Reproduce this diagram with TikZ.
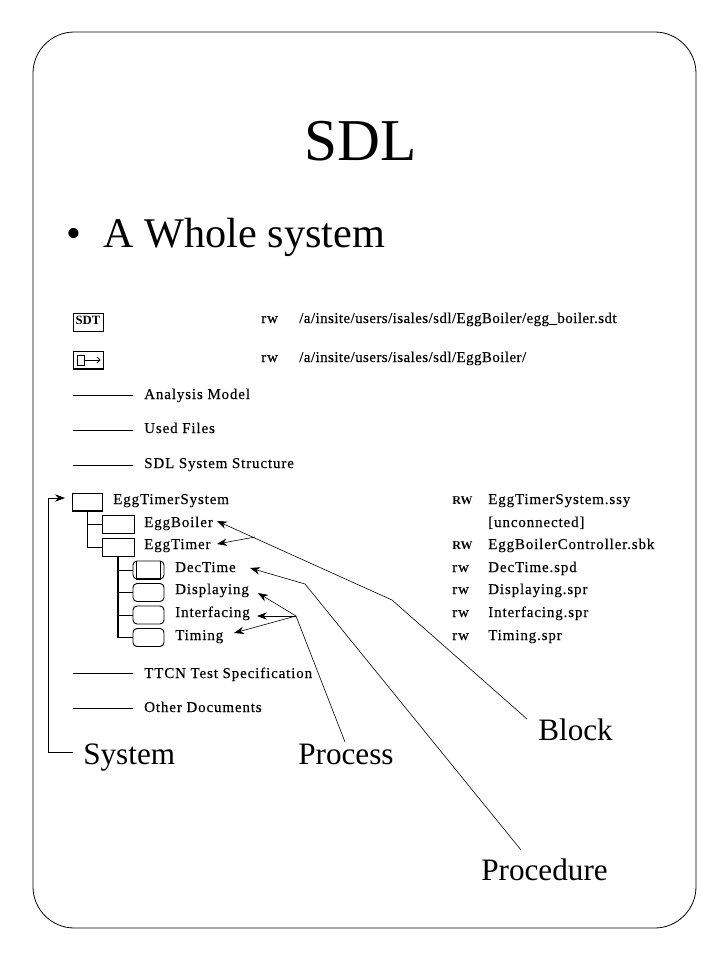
\documentclass[tikz,border=0pt]{standalone}
\usepackage{fontspec}
\usetikzlibrary{arrows.meta,positioning}
\setmainfont{Liberation Serif}
\newfontfamily\listfont[LetterSpace=6,FakeBold=0.25]{Liberation Serif}
\newfontfamily\pathfont[LetterSpace=3,FakeBold=0.25]{Liberation Serif}
\tikzset{
  x=0.75pt, y=-0.75pt,
  titletext/.style={anchor=base, inner sep=0, font=\fontsize{44.5}{50}\selectfont},
  bullettext/.style={anchor=base west, inner sep=0, font=\fontsize{31.7}{36}\selectfont},
  calltext/.style={anchor=base west, inner sep=0, font=\fontsize{23.4}{27}\selectfont},
  listtext/.style={anchor=base west, inner sep=0, font=\listfont\fontsize{11.2}{13}\selectfont},
  pathtext/.style={anchor=base west, inner sep=0, font=\pathfont\fontsize{11.2}{13}\selectfont},
  flagtext/.style={anchor=base west, inner sep=0, font=\bfseries\fontsize{9}{11}\selectfont},
  itembox/.style={draw, line width=0.7pt, inner sep=0, outer sep=0, minimum width=22.5pt, minimum height=13.5pt},
  procbox/.style={draw, line width=0.7pt, inner sep=0, outer sep=0, rounded corners=3pt, minimum width=23.25pt, minimum height=13.5pt},
  rule/.style={line width=0.6pt},
  heavy/.style={line width=1.4pt},
  call/.style={line width=0.45pt},
  tip/.style={call, -{Stealth[length=7.5pt, width=5.5pt]}},
}
\begin{document}
\begin{tikzpicture}
  \useasboundingbox (0,0) rectangle (720,960);

  % Frame
  \draw[line width=0.6pt, rounded corners=31pt] (33,32) rectangle (696,928);

  % Headings
  \node[titletext]  (title)  at (361,160) {SDL};
  \node[bullettext] (bullet) at (66,247) {\textbullet};
  \node[bullettext] (whole)  at (103,247) {A Whole system};

  % Top rows
  \node[itembox] (sdtbox) at (88,322) {\raisebox{2pt}{\bfseries\fontsize{9.5}{9}\selectfont SDT}};
  \node[itembox] (orgbox) at (88,360) {};
  \node[draw, line width=0.6pt, inner sep=0, minimum width=5.2pt, minimum height=7.5pt] (orgsquare) at (80.5,360) {};
  \coordinate (orgtip) at (100,360);
  \node[listtext] (rwa) at (261,323) {rw};
  \node[listtext] (rwb) at (261,362) {rw};
  \node[pathtext] (patha) at (299,323) {/a/insite/users/isales/sdl/EggBoiler/egg\_boiler.sdt};
  \node[pathtext] (pathb) at (299,362) {/a/insite/users/isales/sdl/EggBoiler/};

  % Closed sections
  \node[listtext] (analysis) at (144,399) {Analysis Model};
  \node[listtext] (used)     at (144,433) {Used Files};
  \node[listtext] (struct)   at (144,468) {SDL System Structure};
  \node[listtext] (ttcn)     at (144,678) {TTCN Test Specification};
  \node[listtext] (other)    at (144,712) {Other Documents};
  \coordinate (analysisend) at (73,395);
  \coordinate (usedend)     at (73,430);
  \coordinate (structend)   at (73,465);
  \coordinate (ttcnend)     at (73,673);
  \coordinate (otherend)    at (73,708);

  % Tree boxes
  \node[itembox] (sysbox)    at (87.5,502) {};
  \node[itembox, minimum width=24pt] (boilerbox) at (118,524) {};
  \node[itembox, minimum width=24pt] (timerbox)  at (118,547) {};
  \node[procbox] (decbox)    at (148.5,570) {};
  \node[procbox] (dispbox)   at (148.5,592.5) {};
  \node[procbox] (intbox)    at (148.5,615) {};
  \node[procbox] (timingbox) at (148.5,637.5) {};

  % Tree names
  \node[listtext] (sysname)    at (113,504) {EggTimerSystem};
  \node[listtext] (boilername) at (144,527) {EggBoiler};
  \node[listtext] (timername)  at (144,549) {EggTimer};
  \node[listtext] (decname)    at (175,572) {DecTime};
  \node[listtext] (dispname)   at (175,594) {Displaying};
  \node[listtext] (intname)    at (175,617) {Interfacing};
  \node[listtext] (timingname) at (175,640) {Timing};

  % Flags and files
  \node[flagtext] (flagsys)    at (452,504) {RW};
  \node[flagtext] (flagtimer)  at (452,549) {RW};
  \node[listtext] (flagdec)    at (452,572) {rw};
  \node[listtext] (flagdisp)   at (452,594) {rw};
  \node[listtext] (flagint)    at (452,617) {rw};
  \node[listtext] (flagtiming) at (452,640) {rw};
  \node[listtext] (filesys)    at (488,504) {EggTimerSystem.ssy};
  \node[listtext] (fileboiler) at (488,527) {[unconnected]};
  \node[listtext] (filetimer)  at (488,549) {EggBoilerController.sbk};
  \node[listtext] (filedec)    at (488,572) {DecTime.spd};
  \node[listtext] (filedisp)   at (488,594) {Displaying.spr};
  \node[listtext] (fileint)    at (488,617) {Interfacing.spr};
  \node[listtext] (filetiming) at (488,640) {Timing.spr};

  % Callouts
  \node[calltext] (system)    at (83,764) {System};
  \node[calltext] (process)   at (298,764) {Process};
  \node[calltext] (block)     at (538,740) {Block};
  \node[calltext] (procedure) at (481,880) {Procedure};

  \coordinate (blockend)  at (527,719);
  \coordinate (blockbend) at (392,600);
  \coordinate (blockfork) at (255,537);
  \coordinate (procend)   at (521,850);
  \coordinate (procbend)  at (305,584);
  \coordinate (procfork)  at (296,616);
  \coordinate (processend) at (345,742);
  \coordinate (sysend)    at (73,752);
  \coordinate (syscorner) at (48,498);
  \coordinate (systip)    at (65,498);
  \coordinate (boilertip) at (217,521);
  \coordinate (timertip)  at (217,544);
  \coordinate (dectip)    at (250,568);
  \coordinate (disptip)   at (258,593);
  \coordinate (inttip)    at (257,616);
  \coordinate (timingtip) at (234,633);

  % Connect the nodes
  \draw[rule] (orgsquare.east) -- (orgtip);
  \draw[rule] (orgtip) ++(-3,-3) -- (orgtip) -- ++(-3,3);
  \draw[heavy] (sysbox.south west) -- (sysbox.south east);
  \draw[heavy] (orgbox.south west) -- (orgbox.south east);
  \draw[heavy] ([xshift=2pt]decbox.south west) -- ([xshift=-2pt]decbox.south east);
  \draw[rule] ([xshift=2.5pt]decbox.north west) -- ([xshift=2.5pt]decbox.south west);
  \draw[rule] ([xshift=-2.5pt]decbox.north east) -- ([xshift=-2.5pt]decbox.south east);
  \draw[rule] (analysisend) -- ++(60,0);
  \draw[rule] (usedend) -- ++(60,0);
  \draw[rule] (structend) -- ++(60,0);
  \draw[rule] (ttcnend) -- ++(60,0);
  \draw[rule] (otherend) -- ++(60,0);
  \draw[rule] (sysbox.south) |- (boilerbox.west);
  \draw[rule] (sysbox.south) |- (timerbox.west);
  \draw[heavy] (timerbox.south) |- (timingbox.west);
  \draw[rule] (decbox.west -| timerbox.south) -- (decbox.west);
  \draw[rule] (dispbox.west -| timerbox.south) -- (dispbox.west);
  \draw[rule] (intbox.west -| timerbox.south) -- (intbox.west);
  \draw[tip] (sysend) -| (syscorner) -- (systip);
  \draw[tip] (blockend) -- (blockbend) -- (boilertip);
  \draw[tip] (blockfork) -- (timertip);
  \draw[tip] (procend) -- (procbend) -- (dectip);
  \draw[tip] (processend) -- (procfork) -- (disptip);
  \draw[tip] (procfork) -- (inttip);
  \draw[tip] (procfork) -- (timingtip);
\end{tikzpicture}
\end{document}
